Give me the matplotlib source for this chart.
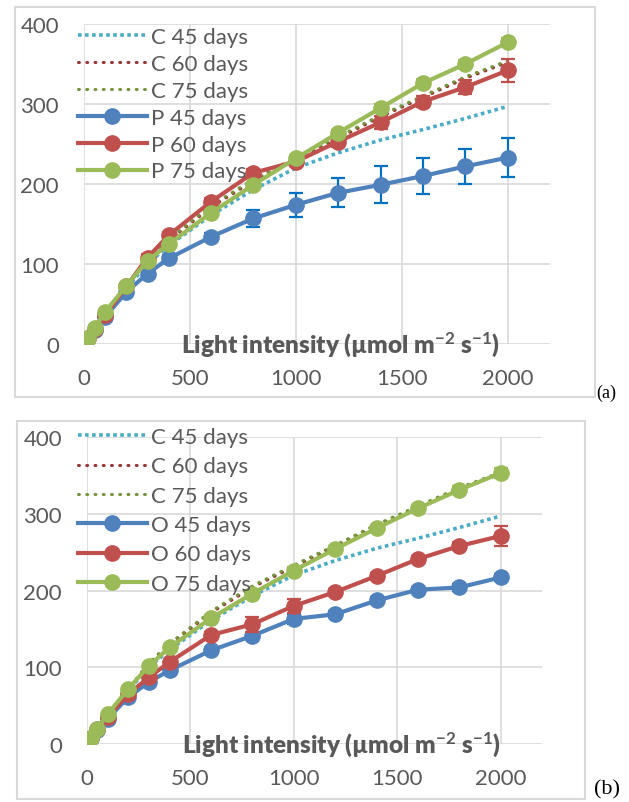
import matplotlib
matplotlib.use("Agg")
import matplotlib.pyplot as plt
from matplotlib.patches import Rectangle

plt.rcParams['font.family'] = ['Lato', 'DejaVu Sans']
plt.rcParams['mathtext.fontset'] = 'custom'
plt.rcParams['mathtext.rm'] = 'Lato:bold'
plt.rcParams['mathtext.default'] = 'rm'

# light intensity (umol m-2 s-1)
light = [20, 50, 100, 200, 300, 400, 600, 800, 1000, 1200, 1400, 1600, 1800, 2000]

# control
c45 = [8, 19, 36, 70, 100, 123, 161, 193, 220, 239, 255, 268, 282, 297]
c60 = [8, 20, 37, 71, 105, 129, 171, 204, 231, 257, 284, 308, 332, 352]
c75 = [8, 20, 38, 72, 106, 131, 173, 206, 233, 259, 286, 310, 334, 354]

# panel (a): P
p45 = [8, 18, 34, 65, 88, 107, 134, 157, 174, 189, 199, 210, 222, 233]
p45_err = [1, 1, 2, 3, 3, 4, 5, 11, 15, 18, 23, 22, 22, 24]
p60 = [8, 19, 36, 72, 108, 136, 178, 214, 228, 253, 277, 303, 321, 342]
p60_err = [1, 1, 2, 3, 4, 4, 5, 5, 6, 7, 8, 7, 9, 14]
p75 = [8, 20, 40, 73, 104, 125, 164, 199, 232, 264, 295, 326, 350, 377]
p75_err = [1, 1, 2, 2, 3, 3, 4, 4, 4, 4, 5, 5, 5, 6]

# panel (b): O
o45 = [8, 18, 33, 61, 81, 96, 122, 141, 163, 169, 187, 201, 204, 217]
o45_err = [1, 1, 2, 2, 3, 3, 3, 4, 7, 4, 4, 4, 4, 5]
o60 = [8, 19, 35, 65, 87, 107, 142, 156, 180, 198, 219, 241, 258, 271]
o60_err = [1, 1, 2, 2, 3, 3, 4, 10, 9, 4, 4, 4, 5, 13]
o75 = [8, 20, 39, 72, 102, 126, 164, 196, 226, 254, 281, 307, 331, 353]
o75_err = [1, 1, 2, 2, 3, 3, 4, 4, 4, 4, 4, 4, 5, 6]

W, H = 629, 803
gray = '#595959'
grid = '#D9D9D9'
cols = ['#4F81BD', '#C0504D', '#9BBB59']
ecols = ['#0070C0', '#C0504D', '#9BBB59']

fig = plt.figure(figsize=(W / 100, H / 100), dpi=100)


def panel(box, area, prefix, series, errs, leg_top, leg_spacing, lab_x, tag, tag_pos, tag_size):
    x0, y0, x1, y1 = box
    fig.add_artist(Rectangle((x0 / W, 1 - y1 / H), (x1 - x0) / W, (y1 - y0) / H,
                             transform=fig.transFigure, fill=False, ec=grid, lw=1.5))
    l, t, r, b = area
    ax = fig.add_axes([l / W, 1 - b / H, (r - l) / W, (b - t) / H])
    ax.set_xlim(0, 2200)
    ax.set_ylim(0, 400)
    ax.set_xticks([0, 500, 1000, 1500, 2000])
    ax.set_yticks([0, 100, 200, 300, 400])
    for s in ax.spines.values():
        s.set_visible(False)
    ax.tick_params(length=0, labelsize=16, labelcolor=gray)
    ax.tick_params(axis='x', pad=17)
    ax.tick_params(axis='y', pad=18)
    for v in [0, 100, 200, 300, 400]:
        ax.axhline(v, color=grid, lw=1.2, zorder=0)
    for v in [0, 500, 1000, 1500, 2000]:
        ax.plot([v, v], [0, 400], color=grid, lw=1.2, zorder=0)

    ax.plot(light, c45, color='#4BACC6', lw=2.6, ls=(0, (1.0, 0.95)), label='C 45 days')
    ax.plot(light, c60, color='#953735', lw=2.2, ls=(0, (0.3, 2.4)),
            dash_capstyle='round', label='C 60 days')
    ax.plot(light, c75, color='#77933C', lw=2.2, ls=(0, (0.3, 2.4)),
            dash_capstyle='round', label='C 75 days')
    for i, (ys, es) in enumerate(zip(series, errs)):
        ax.errorbar(light, ys, yerr=es, fmt='none', ecolor=ecols[i],
                    elinewidth=1.6, capsize=5, capthick=1.6, zorder=2.5 + i * 0.1)
        ax.plot(light, ys, color=cols[i], lw=3, marker='o', ms=11,
                zorder=2.55 + i * 0.1, label=f'{prefix} {45 + 15 * i} days')

    ax.legend(loc='upper left', bbox_to_anchor=(78 / W, 1 - leg_top / H),
              bbox_transform=fig.transFigure, frameon=False, fontsize=16,
              labelcolor=gray, borderpad=0, handlelength=3.1, handletextpad=0.2,
              labelspacing=leg_spacing, borderaxespad=0)

    ax.text(lab_x, 0, 'Light intensity (µmol m$^{-2}$ s$^{-1}$)', transform=ax.transAxes,
            ha='center', va='center', fontsize=17.5, fontweight='heavy', color=gray)
    fig.text(tag_pos[0] / W, 1 - tag_pos[1] / H, tag, family='Liberation Serif',
             fontsize=tag_size, ha='left', va='center', color='black')
    return ax


panel((15, 8, 595, 398), (84, 25, 550, 345), 'P', [p45, p60, p75],
      [p45_err, p60_err, p75_err], 28, 0.31, 0.551, '(a)', (596, 393), 13)
panel((17, 422, 585, 800), (87, 438, 542, 745), 'O', [o45, o60, o75],
      [o45_err, o60_err, o75_err], 428, 0.42, 0.56, '(b)', (594, 790), 16)

fig.savefig('out.png', dpi=100)
